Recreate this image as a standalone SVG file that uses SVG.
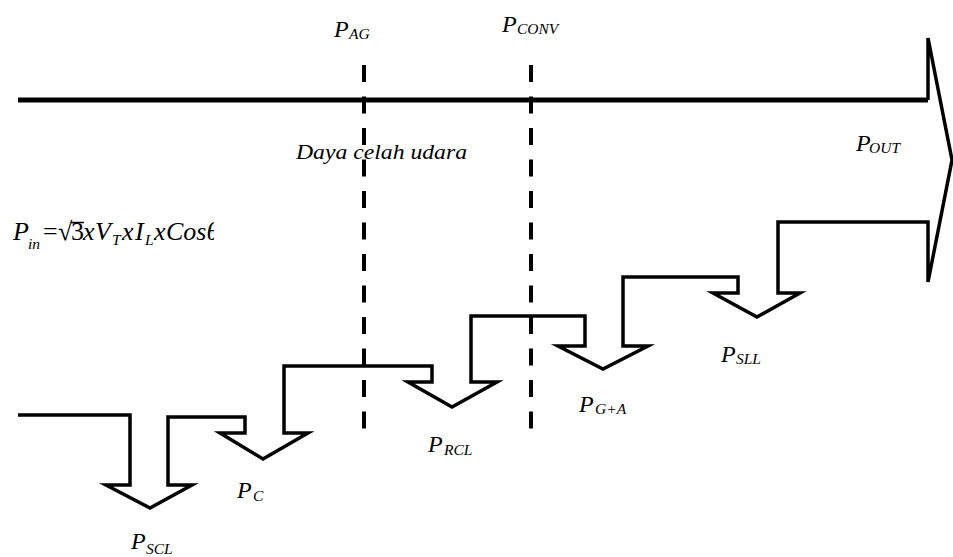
<svg xmlns="http://www.w3.org/2000/svg" width="953" height="557" viewBox="0 0 953 557">
<style>
.flow{fill:none;stroke:#000;stroke-width:3.5;stroke-linejoin:miter;stroke-miterlimit:10}
.top{fill:none;stroke:#000;stroke-width:5}
.dash{fill:none;stroke:#000;stroke-width:4;stroke-dasharray:17 14.5}
.t{font-family:"Liberation Serif","Times New Roman",serif;font-style:italic;fill:#000}
.p{font-size:24px}
.s{font-size:15.5px}
.f{font-size:26px}
.n{font-family:"Liberation Serif","Times New Roman",serif;font-style:normal;fill:#000}
</style>
<defs>
<clipPath id="fclip"><rect x="0" y="200" width="214" height="70"/></clipPath>
</defs>
<rect width="953" height="557" fill="#fff"/>
<g id="power-flow">
<line class="top" x1="18" y1="100" x2="928" y2="100"/>
<polyline class="flow" points="18,415 130,415 130,485 106,485 150,508 192,485 168,485 168,417 245,417 245,433 220,433 263,459 308,433 284,433 284,366 432,366 432,382 408,382 452,407 497,382 471,382 471,316 585,316 585,346 558,346 603,369 648,346 623,346 623,277 738,277 738,293 713,293 757,317 800,293 778,293 778,222 928,222 928,282 952,160 928,38 928,100"/>
</g>
<g id="connectors">
<line class="dash" x1="364" y1="65" x2="364" y2="430"/>
<line class="dash" x1="531" y1="65" x2="531" y2="430"/>
</g>
<g id="p-ag">
<text class="t p" x="334" y="37">P</text><text class="t s" x="349" y="39">AG</text>
</g>
<g id="p-conv">
<text class="t p" x="502" y="32">P</text><text class="t s" x="517" y="34">CONV</text>
</g>
<g id="air-gap">
<text class="t" x="296" y="159" font-size="22" textLength="171" lengthAdjust="spacingAndGlyphs">Daya celah udara</text>
</g>
<g id="p-out">
<text class="t p" x="856" y="151">P</text><text class="t s" x="869" y="153">OUT</text>
</g>
<g id="p-in" clip-path="url(#fclip)">
<text class="t f" x="13" y="240">P</text>
<text class="t s" x="28" y="249">in</text>
<text class="n f" x="43" y="240">=</text>
<text class="n f" x="58" y="240">√</text>
<line x1="71" y1="222.5" x2="84" y2="222.5" stroke="#000" stroke-width="1.5"/>
<text class="n f" x="71" y="240">3</text>
<text class="t f" x="83" y="240">x</text>
<text class="t f" x="95" y="240">V</text>
<text class="t s" x="112" y="245">T</text>
<text class="t f" x="122" y="240">x</text>
<text class="t f" x="135" y="240">I</text>
<text class="t s" x="145" y="245">L</text>
<text class="t f" x="154" y="240">x</text>
<text class="t f" x="166" y="240">Cosθ</text>
</g>
<g id="p-scl">
<text class="t p" x="131" y="549">P</text><text class="t s" x="146" y="554">SCL</text>
</g>
<g id="p-c">
<text class="t p" x="237" y="498">P</text><text class="t s" x="253" y="501">C</text>
</g>
<g id="p-rcl">
<text class="t p" x="428" y="452">P</text><text class="t s" x="444" y="455">RCL</text>
</g>
<g id="p-ga">
<text class="t p" x="579" y="412">P</text><text class="t s" x="595" y="414">G+A</text>
</g>
<g id="p-sll">
<text class="t p" x="721" y="362">P</text><text class="t s" x="736" y="364">SLL</text>
</g>
</svg>
